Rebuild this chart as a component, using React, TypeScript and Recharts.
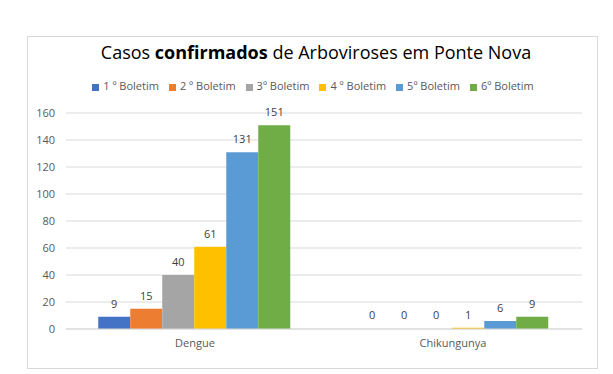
import { BarChart, Bar, XAxis, YAxis, CartesianGrid, Legend, LabelList, Rectangle } from 'recharts'

const categories = ['Dengue', 'Chikungunya']
const boletim1 = [9, 0]
const boletim2 = [15, 0]
const boletim3 = [40, 0]
const boletim4 = [61, 1]
const boletim5 = [131, 6]
const boletim6 = [151, 9]
const yTicks = [0, 20, 40, 60, 80, 100, 120, 140, 160]

const seriesNames = ['1 º Boletim', '2 º Boletim', '3º Boletim', '4 º Boletim', '5º Boletim', '6º Boletim']
const seriesValues = [boletim1, boletim2, boletim3, boletim4, boletim5, boletim6]
const colors = ['#4472C4', '#ED7D31', '#A5A5A5', '#FFC000', '#5B9BD5', '#70AD47']

const data = categories.map((name, i) => {
  const row: Record<string, string | number> = { name }
  seriesNames.forEach((s, j) => {
    row[s] = seriesValues[j][i]
  })
  return row
})

const font = "'Open Sans', 'Noto Sans', sans-serif"

const renderLabel = (props: any) => {
  const { x, y, width, value } = props
  return (
    <text
      x={Number(x) + Number(width) / 2}
      y={Number(y) - 9}
      textAnchor="middle"
      fill="#404040"
      fontSize={11}
      fontFamily={font}
    >
      {value}
    </text>
  )
}

// zero bars get a 1px placeholder so their label is kept, but nothing is drawn
const renderShape = (props: any) => {
  if (!props.value) return <g />
  return <Rectangle {...props} />
}

export default function App() {
  return (
    <div style={{ position: 'absolute', left: 0, top: 0, width: 613, height: 374, background: '#fff', fontFamily: font }}>
      <div
        style={{
          position: 'absolute',
          left: 27,
          top: 36,
          width: 569,
          height: 331,
          border: '1px solid #d9d9d9',
        }}
      />
      <div
        style={{
          position: 'absolute',
          left: 0,
          top: 40,
          width: 632,
          textAlign: 'center',
          fontSize: 18,
          color: '#000',
          whiteSpace: 'nowrap',
        }}
      >
        Casos <b>confirmados</b> de Arboviroses em Ponte Nova
      </div>
      <BarChart
        width={613}
        height={374}
        data={data}
        margin={{ top: 98, right: 31, bottom: 15, left: 26 }}
        barCategoryGap="12.5%"
        barGap={0}
        style={{ position: 'absolute', left: 0, top: 0 }}
      >
        <CartesianGrid vertical={false} stroke="#d9d9d9" />
        <XAxis
          dataKey="name"
          axisLine={{ stroke: '#d9d9d9' }}
          tickLine={false}
          tickMargin={4}
          tick={{ fill: '#595959', fontSize: 11, fontFamily: font }}
        />
        <YAxis
          width={40}
          domain={[0, 160]}
          ticks={yTicks}
          axisLine={false}
          tickLine={false}
          tickMargin={5}
          tick={{ fill: '#595959', fontSize: 11, fontFamily: font }}
        />
        <Legend
          verticalAlign="top"
          align="center"
          iconType="square"
          iconSize={7}
          wrapperStyle={{ top: 78, left: 40, fontSize: 11, fontFamily: font, color: '#595959' }}
          formatter={(v) => <span style={{ color: '#595959' }}>{v}</span>}
        />
        {seriesNames.map((s, j) => (
          <Bar
            key={s}
            dataKey={s}
            fill={colors[j]}
            isAnimationActive={false}
            minPointSize={(v: number) => (v === 0 ? 1 : 0)}
            shape={renderShape}
          >
            <LabelList dataKey={s} content={renderLabel} />
          </Bar>
        ))}
      </BarChart>
    </div>
  )
}
